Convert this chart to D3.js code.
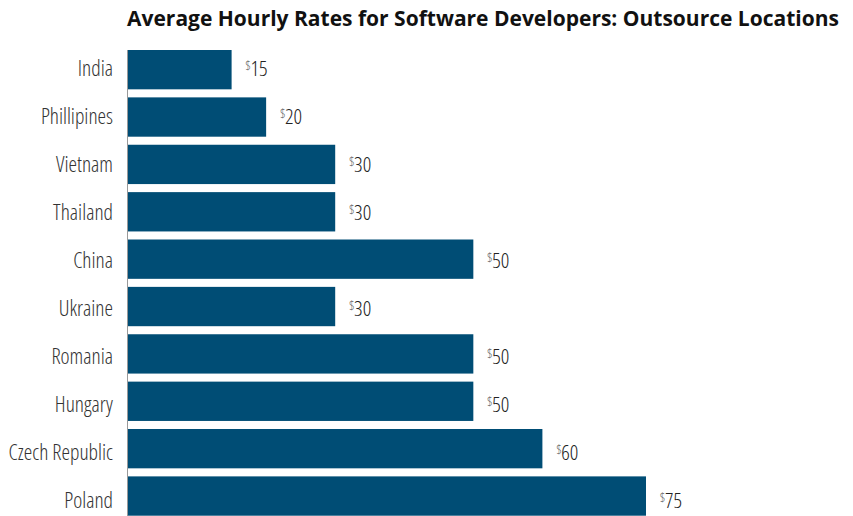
<!DOCTYPE html>
<html>
<head>
<meta charset="utf-8">
<script src="https://cdn.jsdelivr.net/npm/d3@7"></script>
<style>
  body { margin: 0; background: #fff; }
  .lbl { font-family: 'Open Sans', sans-serif; font-stretch: 75%; font-weight: 300; }
</style>
</head>
<body>
<svg id="chart"></svg>
<script>
'use strict';

const countries = ['India', 'Phillipines', 'Vietnam', 'Thailand', 'China', 'Ukraine', 'Romania', 'Hungary', 'Czech Republic', 'Poland'];
const rates = [15, 20, 30, 30, 50, 30, 50, 50, 60, 75];

const width = 853;
const height = 516;
const margin = {top: 50, right: 20, bottom: 0, left: 128};

const svg = d3.select('#chart')
    .attr('width', width)
    .attr('height', height);

const x = d3.scaleLinear()
    .domain([0, 75])
    .range([margin.left, margin.left + 518]);

const y = d3.scaleBand()
    .domain(countries)
    .range([margin.top, 515.7])
    .paddingInner(0.17)
    .paddingOuter(0);

// labels sit on a slightly wider pitch than the bars
const yLabel = d3.scaleBand()
    .domain(countries)
    .range([44.7, 524.7]);

svg.append('text')
    .attr('x', 127)
    .attr('y', 26)
    .attr('font-family', 'Open Sans, sans-serif')
    .attr('font-weight', 'bold')
    .attr('font-size', '21px')
    .attr('fill', '#111')
    .text('Average Hourly Rates for Software Developers: Outsource Locations');

svg.selectAll('rect.bar')
    .data(rates)
    .enter().append('rect')
    .attr('class', 'bar')
    .attr('x', x(0))
    .attr('y', (d, i) => y(countries[i]))
    .attr('width', (d) => x(d) - x(0))
    .attr('height', y.bandwidth())
    .attr('fill', '#004d75');

// category axis
svg.append('line')
    .attr('x1', 127.5)
    .attr('x2', 127.5)
    .attr('y1', margin.top)
    .attr('y2', height)
    .attr('stroke', '#999')
    .attr('stroke-width', 1);

svg.selectAll('text.cat')
    .data(countries)
    .enter().append('text')
    .attr('class', 'cat lbl')
    .attr('x', 113)
    .attr('y', (d) => yLabel(d) + yLabel.bandwidth() / 2)
    .attr('dy', '0.36em')
    .attr('text-anchor', 'end')
    .attr('font-size', '21.5px')
    .attr('fill', '#333')
    .text((d) => d);

const vals = svg.selectAll('text.val')
    .data(rates)
    .enter().append('text')
    .attr('class', 'val lbl')
    .attr('x', (d) => x(d) + 14)
    .attr('y', (d, i) => yLabel(countries[i]) + yLabel.bandwidth() / 2)
    .attr('fill', '#222');
vals.append('tspan')
    .attr('font-size', '12px')
    .attr('dy', 1)
    .attr('fill', '#555')
    .text('$');
vals.append('tspan')
    .attr('font-size', '21px')
    .attr('dy', 6.5)
    .text((d) => d);
</script>
</body>
</html>
